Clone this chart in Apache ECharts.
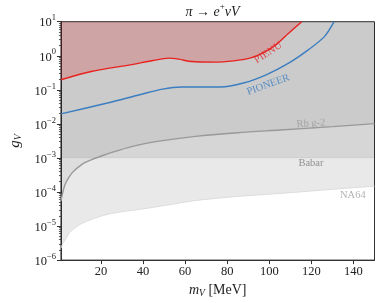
<!DOCTYPE html>
<html><head><meta charset="utf-8">
<script src="https://cdn.jsdelivr.net/npm/echarts@6/dist/echarts.min.js"></script>
<style>html,body{margin:0;padding:0;background:#fff}#c{width:381px;height:303px}</style>
</head><body><div id="c"></div>
<script>
// ---- data ----
const xTicks = [20, 40, 60, 80, 100, 120, 140];
const yMajorTicks = [1e-6, 1e-5, 1e-4, 1e-3, 1e-2, 1e-1, 1e0, 1e1];

const massPIENU = [1, 15.4, 33.9, 44.6, 52.3, 56.9, 63.1, 73.8, 83.1, 90.8, 96.9, 103.1, 109.2, 115.4];
const gPIENU    = [0.197, 0.345, 0.542, 0.723, 0.851, 0.794, 0.676, 0.650, 0.710, 0.851, 1.19, 2.08, 4.58, 10];

const massPIONEER = [1, 23.1, 38.5, 49.3, 58.5, 64.6, 76.9, 87.7, 98.5, 109.2, 118.5, 126.2, 130.8];
const gPIONEER    = [0.0196, 0.041, 0.0718, 0.105, 0.1205, 0.1205, 0.1205, 0.158, 0.276, 0.607, 1.49, 3.64, 10];

const massRb = [1, 2, 3.3, 6.4, 11, 15.6, 20, 26, 35, 46, 65, 85, 105, 130, 150];
const gRb    = [5.4e-5, 1.05e-4, 1.86e-4, 3.7e-4, 6.5e-4, 8.9e-4, 1.12e-3, 1.51e-3, 2.19e-3, 3.0e-3, 4.3e-3, 5.5e-3, 6.6e-3, 8.3e-3, 1.02e-2];

const massBabar = [1, 150];
const gBabar    = [1e-3, 1e-3];

const massNA64 = [1, 2, 3.3, 5, 7.9, 11, 15.6, 23, 32, 38.5, 54, 65, 85, 110, 130, 150];
const gNA64    = [2.24e-6, 3.16e-6, 4.17e-6, 6.3e-6, 9.1e-6, 1.2e-5, 1.58e-5, 2.19e-5, 2.75e-5, 3.09e-5, 4.37e-5, 5.62e-5, 7.41e-5, 9.55e-5, 1.2e-4, 1.48e-4];

const labelNames = ['PIENU', 'PIONEER', 'Rb g-2', 'Babar', 'NA64'];
const labelMass  = [99.5, 99.5, 119.8, 119.8, 139.7];
const labelG     = [1.22, 0.141, 0.0102, 6.9e-4, 7.9e-5];

// ---- build ----
const zip = (a, b) => a.map((v, i) => [v, b[i]]);
const minorTicks = [];
for (let e = -6; e < 1; e++) for (let k = 2; k <= 9; k++) minorTicks.push(k * Math.pow(10, e));

const FONT = 'Liberation Serif';
function expLabel(v) {
  const e = Math.round(Math.log10(v));
  const s = String(e).replace('-', '\u2212');
  return '{b|10}{s|' + s + '}';
}
const labelRich = {
  b: {fontFamily: FONT, fontSize: 12.5, color: '#222', lineHeight: 16, verticalAlign: 'bottom'},
  s: {fontFamily: FONT, fontSize: 8.5, color: '#222', lineHeight: 9, verticalAlign: 'top'}
};

const labelColors = ['#e0282a', '#3a7dc0', '#9a9a9a', '#7a7a7a', '#a0a0a0'];
const labelRot = [33, 20, 4, 0, 0];

const chart = echarts.init(document.getElementById('c'), null, {renderer: 'canvas'});
chart.setOption({
  animation: false,
  backgroundColor: '#fff',
  title: {
    text: '{i|\u03c0 \u2192 e}{s|+}{i|\u03bdV}',
    left: 212.5, textAlign: 'center', top: 2, padding: 0,
    textStyle: {
      fontWeight: 'normal',
      rich: {
        i: {fontFamily: FONT, fontStyle: 'italic', fontWeight: 'normal', fontSize: 14, color: '#222', lineHeight: 17, verticalAlign: 'bottom'},
        s: {fontFamily: FONT, fontWeight: 'normal', fontSize: 9, color: '#222', lineHeight: 9, verticalAlign: 'top'}
      }
    }
  },
  grid: {left: 51.5, right: 6.5, top: 21.7, bottom: 42, show: true, borderColor: '#333', borderWidth: 1, backgroundColor: 'transparent'},
  xAxis: {
    type: 'value', min: 1, max: 150,
    name: '{i|m}{sub|V} [MeV]', nameLocation: 'middle', nameGap: 20,
    nameTextStyle: {
      rich: {
        i: {fontFamily: FONT, fontStyle: 'italic', fontSize: 14, color: '#222', lineHeight: 16},
        sub: {fontFamily: FONT, fontStyle: 'italic', fontSize: 9.5, color: '#222', lineHeight: 10, verticalAlign: 'bottom'},
      },
      fontFamily: FONT, fontSize: 14, color: '#222'
    },
    axisLine: {lineStyle: {color: '#333', width: 1}},
    axisTick: {customValues: xTicks, length: 4, lineStyle: {color: '#333'}},
    axisLabel: {customValues: xTicks, fontFamily: FONT, fontSize: 12.5, color: '#222', margin: 5},
    splitLine: {show: false}
  },
  yAxis: [{
    type: 'log', min: 1e-6, max: 10, interval: 1, logBase: 10,
    name: '{i|g}{sub|V}', nameLocation: 'middle', nameGap: 30, nameRotate: 90,
    nameTextStyle: {
      rich: {
        i: {fontFamily: FONT, fontStyle: 'italic', fontSize: 15, color: '#222', lineHeight: 16},
        sub: {fontFamily: FONT, fontStyle: 'italic', fontSize: 10, color: '#222', lineHeight: 10, verticalAlign: 'bottom'},
      }
    },
    axisLine: {lineStyle: {color: '#333', width: 1}},
    axisTick: {length: 4, lineStyle: {color: '#333'}},
    axisLabel: {formatter: expLabel, rich: labelRich, margin: 5},
    splitLine: {show: false}
  }, {
    type: 'log', min: 1e-6, max: 10, position: 'left', logBase: 10,
    axisLine: {show: true, lineStyle: {color: '#333', width: 1}},
    axisTick: {customValues: minorTicks, length: 2, lineStyle: {color: '#333', width: 0.8}},
    axisLabel: {show: false},
    splitLine: {show: false}
  }],
  series: [
    {type: 'line', data: zip(massNA64, gNA64), showSymbol: false, smooth: 0.3,
     lineStyle: {color: '#dcdcdc', width: 1}, areaStyle: {origin: 'end', opacity: 1, color: 'rgba(0,0,0,0.085)'}},
    {type: 'line', data: zip(massBabar, gBabar), showSymbol: false,
     lineStyle: {color: 'rgba(0,0,0,0.06)', width: 0.8}, areaStyle: {origin: 'end', opacity: 1, color: 'rgba(0,0,0,0.08)'}},
    {type: 'line', data: zip(massRb, gRb), showSymbol: false, smooth: 0.3,
     lineStyle: {color: '#999', width: 1.4}, areaStyle: {origin: 'end', opacity: 1, color: 'rgba(0,0,0,0.05)'}},
    {type: 'line', data: zip(massPIENU, gPIENU), showSymbol: false, smooth: 0.3,
     lineStyle: {color: '#e8221f', width: 1.4}, areaStyle: {origin: 'end', opacity: 1, color: 'rgba(230,0,0,0.19)'}},
    {type: 'line', data: zip(massPIONEER, gPIONEER), showSymbol: false, smooth: 0.3,
     lineStyle: {color: '#3a7dc0', width: 1.4}},
    {type: 'scatter', symbolSize: 0, silent: true, z: 10,
     data: labelNames.map((n, i) => ({
       value: [labelMass[i], labelG[i]],
       label: {show: true, position: 'inside', formatter: n, rotate: labelRot[i],
               color: labelColors[i], fontFamily: FONT, fontSize: 10.5}
     }))}
  ]
});
</script></body></html>
